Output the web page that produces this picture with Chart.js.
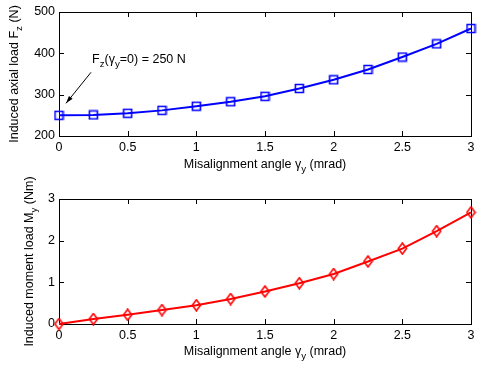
<!DOCTYPE html>
<html>
<head>
<meta charset="utf-8">
<script src="https://cdn.jsdelivr.net/npm/chart.js@4/dist/chart.umd.min.js"></script>
<style>
  html, body { margin: 0; padding: 0; background: #fff; }
  .panel { position: absolute; left: 0; width: 477px; }
  #top { top: 0; height: 183px; }
  #bottom { top: 166px; height: 200px; }
</style>
</head>
<body>
<div class="panel" id="top"><canvas id="c1" width="477" height="183"></canvas></div>
<div class="panel" id="bottom"><canvas id="c2" width="477" height="200"></canvas></div>
<script>
// Misalignment angle gamma_y (mrad)
const misalignment = [0, 0.25, 0.5, 0.75, 1, 1.25, 1.5, 1.75, 2, 2.25, 2.5, 2.75, 3];
// Induced axial load F_z (N)
const axialLoad = [250, 251, 255, 262, 272, 283, 296, 315, 336, 361, 391, 423, 460];
// Induced moment load M_y (Nm)
const momentLoad = [0, 0.12, 0.22, 0.335, 0.45, 0.6, 0.78, 0.98, 1.2, 1.5, 1.81, 2.23, 2.68];

const FONT = '"Liberation Sans", Arial, sans-serif';
const FS = 12.5;
Chart.defaults.font.family = FONT;
Chart.defaults.font.size = FS;
Chart.defaults.color = '#000';

// Marker images: open square and tall open diamond
function marker(kind, color) {
  const c = document.createElement('canvas');
  const w = 11;
  const h = kind === 'square' ? 11 : 13;
  c.width = w; c.height = h;
  const g = c.getContext('2d');
  g.strokeStyle = color;
  g.lineWidth = 1.6;
  g.beginPath();
  if (kind === 'square') {
    g.rect(1.5, 1.5, 8, 8);
  } else {
    g.moveTo(5.5, 1); g.lineTo(9.6, 6.5); g.lineTo(5.5, 12); g.lineTo(1.4, 6.5); g.closePath();
  }
  g.stroke();
  return c;
}

// Draw a string made of normal and subscript pieces, starting at (x,y) baseline
function richWidth(ctx, parts) {
  let w = 0;
  for (const p of parts) {
    ctx.font = (p.sub ? FS * 0.78 : FS) + 'px ' + FONT;
    w += ctx.measureText(p.t).width;
  }
  return w;
}
function richDraw(ctx, parts, x, y) {
  for (const p of parts) {
    ctx.font = (p.sub ? FS * 0.78 : FS) + 'px ' + FONT;
    ctx.fillText(p.t, x, y + (p.sub ? 4 : 0));
    x += ctx.measureText(p.t).width;
  }
}

// Box around the plot area with inward ticks on all four sides, plus axis titles
const framePlugin = {
  id: 'frame',
  beforeDatasetsDraw(chart) {
    const { ctx, chartArea: a, scales } = chart;
    ctx.save();
    ctx.strokeStyle = '#000';
    ctx.lineWidth = 1;
    ctx.strokeRect(Math.round(a.left) + 0.5, Math.round(a.top) + 0.5,
                   Math.round(a.right - a.left), Math.round(a.bottom - a.top));
    const tl = 5;
    ctx.beginPath();
    for (const t of scales.x.ticks) {
      const px = Math.round(scales.x.getPixelForValue(t.value)) + 0.5;
      ctx.moveTo(px, a.bottom); ctx.lineTo(px, a.bottom - tl);
      ctx.moveTo(px, a.top); ctx.lineTo(px, a.top + tl);
    }
    for (const t of scales.y.ticks) {
      const py = Math.round(scales.y.getPixelForValue(t.value)) + 0.5;
      ctx.moveTo(a.left, py); ctx.lineTo(a.left + tl, py);
      ctx.moveTo(a.right, py); ctx.lineTo(a.right - tl, py);
    }
    ctx.stroke();
    ctx.restore();
  },
  afterDraw(chart, args, opts) {
    const { ctx, chartArea: a } = chart;
    ctx.save();
    ctx.fillStyle = '#000';
    ctx.textBaseline = 'alphabetic';
    // x title
    const xt = opts.xTitle;
    const xw = richWidth(ctx, xt);
    richDraw(ctx, xt, (a.left + a.right) / 2 - xw / 2, a.bottom + opts.xTitleOffset);
    // y title (rotated)
    const yt = opts.yTitle;
    const yw = richWidth(ctx, yt);
    ctx.translate(opts.yTitleX, (a.top + a.bottom) / 2);
    ctx.rotate(-Math.PI / 2);
    richDraw(ctx, yt, -yw / 2, 0);
    ctx.restore();
    if (opts.note) opts.note(chart);
  }
};

const plainNumber = v => String(Number(v.toFixed(2)));

function fixedAxes(yWidth, xHeight) {
  return {
    x: {
      type: 'linear', min: 0, max: 3,
      grid: { display: false, drawTicks: false },
      border: { display: false },
      ticks: { stepSize: 0.5, padding: 4, maxRotation: 0, autoSkip: false, callback: plainNumber },
      afterFit(s) { s.height = xHeight; s.paddingLeft = 0; s.paddingRight = 0; }
    },
    y: {
      type: 'linear',
      grid: { display: false, drawTicks: false },
      border: { display: false },
      ticks: { padding: 4, callback: plainNumber },
      afterFit(s) { s.width = yWidth; s.paddingTop = 0; s.paddingBottom = 0; }
    }
  };
}

const xTitle = [{ t: 'Misalignment angle \u03B3' }, { t: 'y', sub: true }, { t: ' (mrad)' }];

// Upper panel: axial load
const axes1 = fixedAxes(59, 47);
axes1.y.min = 200; axes1.y.max = 500; axes1.y.ticks.stepSize = 100;
new Chart(document.getElementById('c1'), {
  type: 'line',
  data: {
    labels: misalignment,
    datasets: [{
      data: misalignment.map((x, i) => ({ x, y: axialLoad[i] })),
      borderColor: '#0000ff', borderWidth: 2, tension: 0,
      pointStyle: marker('square', '#0000ff'), clip: false
    }]
  },
  options: {
    responsive: false, animation: false,
    layout: { padding: { top: 12, right: 5, left: 0, bottom: 0 } },
    plugins: {
      legend: { display: false }, tooltip: { enabled: false },
      frame: {
        xTitle, xTitleOffset: 32, yTitleX: 17.5,
        yTitle: [{ t: 'Induced axial load F' }, { t: 'z', sub: true }, { t: ' (N)' }],
        note(chart) {
          const { ctx, scales } = chart;
          const px = scales.x.getPixelForValue(misalignment[0]);
          const py = scales.y.getPixelForValue(axialLoad[0]);
          ctx.save();
          ctx.fillStyle = '#000';
          ctx.strokeStyle = '#000';
          richDraw(ctx, [{ t: 'F' }, { t: 'z', sub: true }, { t: '(\u03B3' }, { t: 'y', sub: true },
                         { t: '=0) = ' + axialLoad[0] + ' N' }], px + 33, py - 52);
          // arrow
          const tx = px + 7, ty = py - 12, sx = px + 32, sy = py - 43;
          ctx.lineWidth = 1;
          ctx.beginPath(); ctx.moveTo(sx, sy); ctx.lineTo(tx, ty); ctx.stroke();
          const ang = Math.atan2(ty - sy, tx - sx);
          const L = 8, W = 0.3;
          ctx.beginPath();
          ctx.moveTo(tx, ty);
          ctx.lineTo(tx - L * Math.cos(ang - W), ty - L * Math.sin(ang - W));
          ctx.lineTo(tx - L * Math.cos(ang + W), ty - L * Math.sin(ang + W));
          ctx.closePath(); ctx.fill();
          ctx.restore();
        }
      }
    },
    scales: axes1
  },
  plugins: [framePlugin]
});

// Lower panel: moment load
const axes2 = fixedAxes(59, 42);
axes2.y.min = 0; axes2.y.max = 3; axes2.y.ticks.stepSize = 1;
new Chart(document.getElementById('c2'), {
  type: 'line',
  data: {
    labels: misalignment,
    datasets: [{
      data: misalignment.map((x, i) => ({ x, y: momentLoad[i] })),
      borderColor: '#ff0000', borderWidth: 2, tension: 0,
      pointStyle: marker('diamond', '#ff0000'), clip: false
    }]
  },
  options: {
    responsive: false, animation: false,
    layout: { padding: { top: 33, right: 5, left: 0, bottom: 0 } },
    plugins: {
      legend: { display: false }, tooltip: { enabled: false },
      frame: {
        xTitle, xTitleOffset: 31, yTitleX: 33,
        yTitle: [{ t: 'Induced moment load M' }, { t: 'y', sub: true }, { t: ' (Nm)' }]
      }
    },
    scales: axes2
  },
  plugins: [framePlugin]
});
</script>
</body>
</html>
